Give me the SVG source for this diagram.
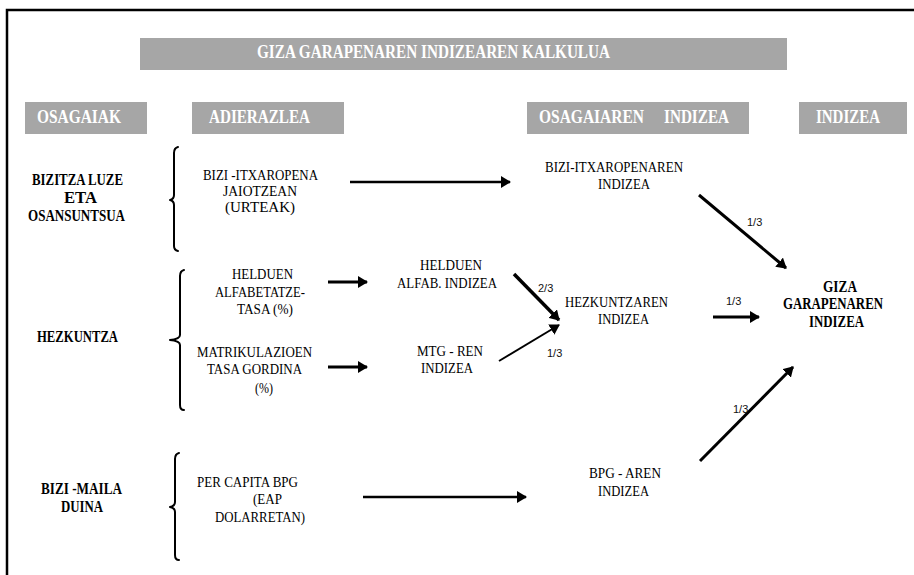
<svg xmlns="http://www.w3.org/2000/svg" width="914" height="575" viewBox="0 0 914 575">
<style>
.hdr{fill:#a6a6a6}
.ht{font-family:"Liberation Serif","Times New Roman",serif;font-weight:bold;font-size:19px;fill:#fff}
.t{font-family:"Liberation Serif","Times New Roman",serif;font-size:15px;fill:#000}
.b{font-family:"Liberation Serif","Times New Roman",serif;font-weight:bold;font-size:16px;fill:#000}
.f{font-family:"Liberation Sans",Arial,sans-serif;font-size:11px;fill:#111}
.br{fill:none;stroke:#000;stroke-width:2;stroke-linejoin:round;stroke-linecap:round}
.c{fill:none;stroke:#000;marker-end:url(#ah)}
</style>
<defs>
<marker id="ah" markerUnits="userSpaceOnUse" markerWidth="10" markerHeight="12" refX="9" refY="6" orient="auto">
<path d="M0,0 L10,6 L0,12 Z" fill="#000"/>
</marker>
</defs>
<rect width="914" height="575" fill="#fff"/>
<g id="frame">
<path d="M7,575 L7,10 L914,10" fill="none" stroke="#000" stroke-width="2.5"/>
</g>
<g id="title">
<rect class="hdr" x="140" y="38" width="647" height="32"/>
<text class="ht" x="257" y="58" textLength="353" lengthAdjust="spacingAndGlyphs">GIZA GARAPENAREN INDIZEAREN KALKULUA</text>
</g>
<g id="hdr-osagaiak">
<rect class="hdr" x="25" y="102" width="122" height="32"/>
<text class="ht" x="37" y="123" textLength="84" lengthAdjust="spacingAndGlyphs">OSAGAIAK</text>
</g>
<g id="hdr-adierazlea">
<rect class="hdr" x="192" y="102" width="152" height="32"/>
<text class="ht" x="209" y="123" textLength="101" lengthAdjust="spacingAndGlyphs">ADIERAZLEA</text>
</g>
<g id="hdr-osagaiaren-indizea">
<rect class="hdr" x="527" y="102" width="222" height="32"/>
<text class="ht" x="539" y="123" textLength="105" lengthAdjust="spacingAndGlyphs">OSAGAIAREN</text>
<text class="ht" x="664" y="123" textLength="65" lengthAdjust="spacingAndGlyphs">INDIZEA</text>
</g>
<g id="hdr-indizea">
<rect class="hdr" x="799" y="102" width="108" height="32"/>
<text class="ht" x="816" y="123" textLength="64" lengthAdjust="spacingAndGlyphs">INDIZEA</text>
</g>
<g id="osagaia-bizitza">
<text class="b" x="32" y="185" textLength="91" lengthAdjust="spacingAndGlyphs">BIZITZA LUZE</text>
<text class="b" x="64" y="203" textLength="33" lengthAdjust="spacingAndGlyphs">ETA</text>
<text class="b" x="28" y="221" textLength="97" lengthAdjust="spacingAndGlyphs">OSANSUNTSUA</text>
<path class="br" d="M178,147 Q174,148 174,153 L174,195 Q174,199 170,200 Q174,201 174,205 L174,246 Q174,250 178,251"/>
</g>
<g id="osagaia-hezkuntza">
<text class="b" x="37" y="342" textLength="81" lengthAdjust="spacingAndGlyphs">HEZKUNTZA</text>
<path class="br" d="M184,270 Q180,271 180,276 L180,335 Q180,339 170,340 Q180,341 180,345 L180,405 Q180,410 184,410"/>
</g>
<g id="osagaia-bizimaila">
<text class="b" x="41" y="494" textLength="81" lengthAdjust="spacingAndGlyphs">BIZI -MAILA</text>
<text class="b" x="61" y="512" textLength="42" lengthAdjust="spacingAndGlyphs">DUINA</text>
<path class="br" d="M179,453 Q175,454 175,459 L175,502 Q175,506 170,507 Q175,508 175,512 L175,555 Q175,560 179,560"/>
</g>
<g id="adierazlea-bizi">
<text class="t" x="203" y="180" textLength="115" lengthAdjust="spacingAndGlyphs">BIZI -ITXAROPENA</text>
<text class="t" x="223" y="196" textLength="74" lengthAdjust="spacingAndGlyphs">JAIOTZEAN</text>
<text class="t" x="225" y="212" textLength="70" lengthAdjust="spacingAndGlyphs">(URTEAK)</text>
</g>
<g id="adierazlea-alfabetatze">
<text class="t" x="232" y="279" textLength="61" lengthAdjust="spacingAndGlyphs">HELDUEN</text>
<text class="t" x="215" y="297" textLength="90" lengthAdjust="spacingAndGlyphs">ALFABETATZE-</text>
<text class="t" x="237" y="314" textLength="56" lengthAdjust="spacingAndGlyphs">TASA (%)</text>
</g>
<g id="adierazlea-matrikulazio">
<text class="t" x="197" y="357" textLength="115" lengthAdjust="spacingAndGlyphs">MATRIKULAZIOEN</text>
<text class="t" x="207" y="374" textLength="95" lengthAdjust="spacingAndGlyphs">TASA GORDINA</text>
<text class="t" x="255" y="393" textLength="18" lengthAdjust="spacingAndGlyphs">(%)</text>
</g>
<g id="adierazlea-bpg">
<text class="t" x="197" y="487" textLength="101" lengthAdjust="spacingAndGlyphs">PER CAPITA BPG</text>
<text class="t" x="253" y="504" textLength="29" lengthAdjust="spacingAndGlyphs">(EAP</text>
<text class="t" x="215" y="522" textLength="90" lengthAdjust="spacingAndGlyphs">DOLARRETAN)</text>
</g>
<g id="helduen-alfab-indizea">
<text class="t" x="420" y="270" textLength="62" lengthAdjust="spacingAndGlyphs">HELDUEN</text>
<text class="t" x="397" y="288" textLength="100" lengthAdjust="spacingAndGlyphs">ALFAB. INDIZEA</text>
</g>
<g id="mtg-indizea">
<text class="t" x="417" y="356" textLength="66" lengthAdjust="spacingAndGlyphs">MTG - REN</text>
<text class="t" x="421" y="373" textLength="52" lengthAdjust="spacingAndGlyphs">INDIZEA</text>
</g>
<g id="bizi-itxaropenaren-indizea">
<text class="t" x="545" y="172" textLength="138" lengthAdjust="spacingAndGlyphs">BIZI-ITXAROPENAREN</text>
<text class="t" x="598" y="189" textLength="52" lengthAdjust="spacingAndGlyphs">INDIZEA</text>
</g>
<g id="hezkuntzaren-indizea">
<text class="t" x="565" y="307" textLength="103" lengthAdjust="spacingAndGlyphs">HEZKUNTZAREN</text>
<text class="t" x="598" y="324" textLength="51" lengthAdjust="spacingAndGlyphs">INDIZEA</text>
</g>
<g id="bpg-indizea">
<text class="t" x="589" y="478" textLength="72" lengthAdjust="spacingAndGlyphs">BPG - AREN</text>
<text class="t" x="598" y="496" textLength="51" lengthAdjust="spacingAndGlyphs">INDIZEA</text>
</g>
<g id="giza-garapenaren-indizea">
<text class="b" x="823" y="292" textLength="34" lengthAdjust="spacingAndGlyphs">GIZA</text>
<text class="b" x="783" y="309" textLength="100" lengthAdjust="spacingAndGlyphs">GARAPENAREN</text>
<text class="b" x="809" y="327" textLength="55" lengthAdjust="spacingAndGlyphs">INDIZEA</text>
</g>
<g id="connectors">
<line class="c" x1="350" y1="182" x2="510" y2="182" stroke-width="2.5"/>
<line class="c" x1="328" y1="282" x2="367" y2="282" stroke-width="3"/>
<line class="c" x1="328" y1="367" x2="367" y2="367" stroke-width="3"/>
<line class="c" x1="514" y1="274" x2="559" y2="320" stroke-width="3.5"/>
<line class="c" x1="499" y1="361" x2="559" y2="325" stroke-width="2"/>
<line class="c" x1="713" y1="317" x2="759" y2="317" stroke-width="3"/>
<line class="c" x1="699" y1="195" x2="786" y2="268" stroke-width="3"/>
<line class="c" x1="700" y1="461" x2="793" y2="367" stroke-width="3"/>
<line class="c" x1="363" y1="497" x2="526" y2="497" stroke-width="2.5"/>
<text class="f" x="538" y="292">2/3</text>
<text class="f" x="547" y="357">1/3</text>
<text class="f" x="726" y="305">1/3</text>
<text class="f" x="747" y="226">1/3</text>
<text class="f" x="733" y="413">1/3</text>
</g>
</svg>
